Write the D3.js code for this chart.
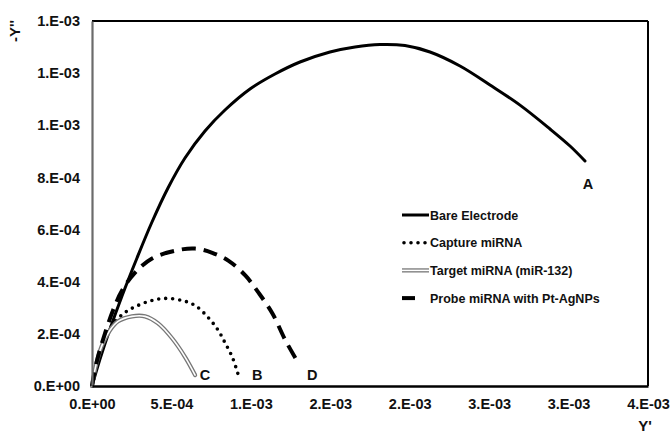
<!DOCTYPE html>
<html>
<head>
<meta charset="utf-8">
<script src="https://cdn.jsdelivr.net/npm/d3@7"></script>
<style>
  html, body { margin: 0; padding: 0; background: #fff; }
  text { font-family: "Liberation Sans", Arial, sans-serif; font-weight: bold; fill: #111; }
</style>
</head>
<body>
<div id="diagram"></div>
<script>
// data (Y' , -Y'')
const bareElectrode = [
  [0, 0], [0.0504e-3, 0.1036e-3], [0.1133e-3, 0.2186e-3], [0.1889e-3, 0.3452e-3], [0.2833e-3, 0.4910e-3],
  [0.3777e-3, 0.6290e-3], [0.4784e-3, 0.7595e-3], [0.5854e-3, 0.8745e-3], [0.7113e-3, 0.9781e-3],
  [0.8372e-3, 1.0586e-3], [0.9946e-3, 1.1392e-3], [1.1520e-3, 1.1967e-3], [1.3094e-3, 1.2427e-3],
  [1.4982e-3, 1.2811e-3], [1.6556e-3, 1.3003e-3], [1.8130e-3, 1.3099e-3], [1.9703e-3, 1.3060e-3],
  [2.1277e-3, 1.2811e-3], [2.3166e-3, 1.2274e-3], [2.5054e-3, 1.1546e-3], [2.6942e-3, 1.0773e-3],
  [2.8831e-3, 0.9858e-3], [3.0090e-3, 0.9205e-3], [3.1034e-3, 0.8630e-3]
];
const captureMiRNA = [
  [0, 0], [0.032e-3, 0.080e-3], [0.069e-3, 0.156e-3], [0.126e-3, 0.233e-3], [0.208e-3, 0.282e-3],
  [0.290e-3, 0.309e-3], [0.378e-3, 0.328e-3], [0.460e-3, 0.336e-3], [0.567e-3, 0.328e-3],
  [0.649e-3, 0.309e-3], [0.731e-3, 0.263e-3], [0.794e-3, 0.214e-3], [0.839e-3, 0.164e-3],
  [0.883e-3, 0.111e-3], [0.921e-3, 0.042e-3]
];
const targetMiRNA = [
  [0, 0], [0.025e-3, 0.080e-3], [0.063e-3, 0.156e-3], [0.113e-3, 0.214e-3], [0.164e-3, 0.248e-3],
  [0.252e-3, 0.267e-3], [0.334e-3, 0.267e-3], [0.416e-3, 0.240e-3], [0.504e-3, 0.183e-3],
  [0.586e-3, 0.111e-3], [0.649e-3, 0.042e-3]
];
const probeMiRNA = [
  [0, 0], [0.032e-3, 0.099e-3], [0.082e-3, 0.202e-3], [0.132e-3, 0.290e-3], [0.189e-3, 0.366e-3],
  [0.271e-3, 0.435e-3], [0.378e-3, 0.489e-3], [0.523e-3, 0.519e-3], [0.649e-3, 0.527e-3],
  [0.757e-3, 0.511e-3], [0.858e-3, 0.481e-3], [0.965e-3, 0.424e-3], [1.047e-3, 0.359e-3],
  [1.135e-3, 0.279e-3], [1.217e-3, 0.176e-3], [1.299e-3, 0.088e-3]
];
const seriesNames = ['Bare Electrode', 'Capture miRNA', 'Target miRNA (miR-132)', 'Probe miRNA with Pt-AgNPs'];
const curveLabels = ['A', 'B', 'C', 'D'];
const xTicks = [0, 0.5e-3, 1.0e-3, 1.5e-3, 2.0e-3, 2.5e-3, 3.0e-3, 3.5e-3];
const xTickLabels = ['0.E+00', '5.E-04', '1.E-03', '2.E-03', '2.E-03', '3.E-03', '3.E-03', '4.E-03'];
const yTicks = [0, 0.2e-3, 0.4e-3, 0.6e-3, 0.8e-3, 1.0e-3, 1.2e-3, 1.4e-3];
const yTickLabels = ['0.E+00', '2.E-04', '4.E-04', '6.E-04', '8.E-04', '1.E-03', '1.E-03', '1.E-03'];

!(function () {
  'use strict';
  // - - - - - - - - - -
  let
    canvas = {
      width: 670,
      height: 434,
      padding: { top: 21, right: 22, bottom: 48, left: 92 }
    },
    svg = undefined,
    xScale = undefined,
    yScale = undefined,
    line = undefined,
    styles = undefined,
    labelOffsets = undefined,

    setCanvas = undefined,
    setScales = undefined,
    setFrame = undefined,
    setAxes = undefined,
    drawStroke = undefined,
    setCurves = undefined,
    setLegend = undefined;

  // stroke styles per series
  styles = [
    [{ stroke: '#000', width: 3, dash: null, cap: 'round' }],
    [{ stroke: '#000', width: 3.6, dash: '0 7', cap: 'round' }],
    [{ stroke: '#777', width: 4.2, dash: null, cap: 'round' }, { stroke: '#fff', width: 1.6, dash: null, cap: 'round' }],
    [{ stroke: '#000', width: 4, dash: '14 8', cap: 'butt' }]
  ];
  labelOffsets = [[3, 28], [19, 5], [10, 5], [14, 17]];

  setCanvas = function (contextSelector) {
    svg = d3.select(contextSelector)
      .append('svg')
      .attr('width', canvas.width)
      .attr('height', canvas.height);
  };

  setScales = function () {
    xScale = d3.scaleLinear()
      .domain([0, 3.5e-3])
      .range([canvas.padding.left, canvas.width - canvas.padding.right]);
    yScale = d3.scaleLinear()
      .domain([0, 1.4e-3])
      .range([canvas.height - canvas.padding.bottom, canvas.padding.top]);
    line = d3.line()
      .x(d => xScale(d[0]))
      .y(d => yScale(d[1]))
      .curve(d3.curveCatmullRom.alpha(0.5));
  };

  setFrame = function () {
    let
      x0 = xScale(0), x1 = xScale(3.5e-3),
      y0 = yScale(0), y1 = yScale(1.4e-3);

    svg.append('line').attr('x1', x0).attr('x2', x1).attr('y1', y1).attr('y2', y1)
      .attr('stroke', '#000').attr('stroke-width', 2);
    svg.append('line').attr('x1', x1).attr('x2', x1).attr('y1', y1).attr('y2', y0)
      .attr('stroke', '#000').attr('stroke-width', 2);
  };

  setAxes = function () {
    let
      xAxis = d3.axisBottom(xScale).tickValues(xTicks).tickSize(0).tickPadding(13)
        .tickFormat((d, i) => xTickLabels[i]),
      yAxis = d3.axisLeft(yScale).tickValues(yTicks).tickSize(0).tickPadding(12)
        .tickFormat((d, i) => yTickLabels[i]),
      gx = undefined,
      gy = undefined;

    gy = svg.append('g')
      .attr('transform', 'translate(' + xScale(0) + ', 0)')
      .call(yAxis);
    gy.select('.domain').attr('stroke', '#6b6b6b').attr('stroke-width', 2.2);

    gx = svg.append('g')
      .attr('transform', 'translate(0, ' + yScale(0) + ')')
      .call(xAxis);
    gx.select('.domain').attr('stroke', '#000').attr('stroke-width', 2.6);

    svg.selectAll('.tick text')
      .attr('font-family', '"Liberation Sans", Arial, sans-serif')
      .attr('font-weight', 'bold')
      .attr('font-size', 14.5)
      .attr('fill', '#111');

    svg.append('text')
      .attr('transform', 'translate(20, 31) rotate(-90)')
      .attr('text-anchor', 'middle')
      .attr('font-size', 15)
      .text("-Y''");

    svg.append('text')
      .attr('x', 645)
      .attr('y', 431)
      .attr('text-anchor', 'middle')
      .attr('font-size', 15)
      .text("Y'");
  };

  drawStroke = function (sel, s) {
    sel.attr('fill', 'none')
      .attr('stroke', s.stroke)
      .attr('stroke-width', s.width)
      .attr('stroke-linecap', s.cap)
      .attr('stroke-linejoin', 'round')
      .attr('stroke-dasharray', s.dash);
  };

  setCurves = function () {
    let data = [bareElectrode, captureMiRNA, targetMiRNA, probeMiRNA];

    data.forEach(function (series, i) {
      styles[i].forEach(function (s) {
        svg.append('path').datum(series).attr('d', line).call(drawStroke, s);
      });
      let last = series[series.length - 1];
      svg.append('text')
        .attr('x', xScale(last[0]) + labelOffsets[i][0])
        .attr('y', yScale(last[1]) + labelOffsets[i][1])
        .attr('text-anchor', 'middle')
        .attr('font-size', 14.5)
        .text(curveLabels[i]);
    });
  };

  setLegend = function () {
    let
      lx = 402,
      ly = 215,
      rowH = 27.7,
      g = svg.append('g');

    seriesNames.forEach(function (name, i) {
      let
        y = ly + i * rowH,
        x2 = i === 3 ? lx + 13 : lx + 27;
      styles[i].forEach(function (s) {
        g.append('line')
          .attr('x1', lx + (i === 1 ? 2 : 0)).attr('x2', x2)
          .attr('y1', y).attr('y2', y)
          .call(drawStroke, Object.assign({}, s, { cap: i === 1 ? 'round' : 'butt' }));
      });
      g.append('text')
        .attr('x', lx + 28)
        .attr('y', y + 4.5)
        .attr('font-size', 12.5)
        .text(name);
    });
  };

  // control
  setCanvas('#diagram');
  setScales();
  setFrame();
  setCurves();
  setAxes();
  setLegend();
  // - - - - - - - - - -
}());
</script>
</body>
</html>
